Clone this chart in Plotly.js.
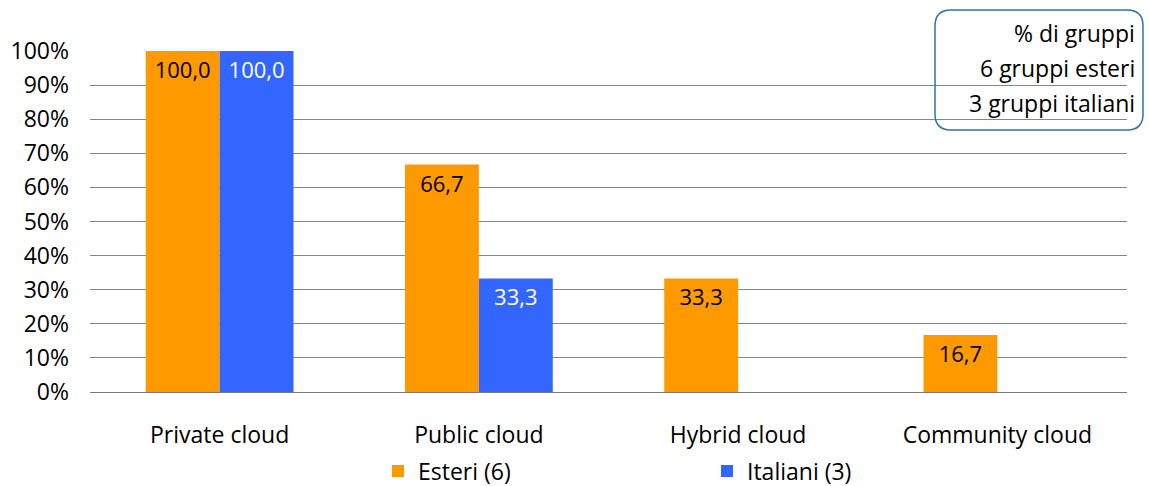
<!DOCTYPE html>
<html><head><meta charset="utf-8">
<script src="https://cdn.plot.ly/plotly-3.0.1.min.js"></script>
<style>body{margin:0;background:#fff}#c{width:1149px;height:486px}</style>
</head><body><div id="c"></div>
<script>
const categories = ["Private cloud", "Public cloud", "Hybrid cloud", "Community cloud"];
const esteri = [100.0, 66.7, 33.3, 16.7];
const italiani = [100.0, 33.3, null, null];
const seriesNames = ["Esteri (6)", "Italiani (3)"];
const tickVals = [0, 10, 20, 30, 40, 50, 60, 70, 80, 90, 100];
const tickText = tickVals.map(v => v + "%");
const boxLines = ["% di gruppi", "6 gruppi esteri", "3 gruppi italiani"];

const fmt = v => v == null ? "" : v.toFixed(1).replace(".", ",");
const FONT = "Open Sans, Noto Sans, sans-serif";
const FS = 23;

const traces = [
  {type: "bar", name: seriesNames[0], x: categories, y: esteri,
   marker: {color: "#FF9900"}, text: esteri.map(fmt), textposition: "inside",
   insidetextanchor: "end", textfont: {color: "#000", size: FS - 1, family: FONT},
   constraintext: "none", hoverinfo: "skip"},
  {type: "bar", name: seriesNames[1], x: categories, y: italiani,
   marker: {color: "#3366FF"}, text: italiani.map(fmt), textposition: "inside",
   insidetextanchor: "end", textfont: {color: "#fff", size: FS - 1, family: FONT},
   constraintext: "none", hoverinfo: "skip"}
];

// rounded box (pixel -> paper)
const L = 90, R = 1127, T = 51, B = 392;
const px = p => (p - L) / (R - L);
const py = p => (B - p) / (B - T);
const bx0 = 935, bx1 = 1143, by0 = 10, by1 = 130, rr = 16;
const rx = rr / (R - L), ry = rr / (B - T);
const X0 = px(bx0), X1 = px(bx1), Y0 = py(by1), Y1 = py(by0);
const path = `M ${X0+rx} ${Y1} L ${X1-rx} ${Y1} Q ${X1} ${Y1} ${X1} ${Y1-ry} L ${X1} ${Y0+ry} Q ${X1} ${Y0} ${X1-rx} ${Y0} L ${X0+rx} ${Y0} Q ${X0} ${Y0} ${X0} ${Y0+ry} L ${X0} ${Y1-ry} Q ${X0} ${Y1} ${X0+rx} ${Y1} Z`;

const annotations = boxLines.map((t, i) => ({
  xref: "paper", yref: "paper", x: px(1137), y: py(33 + i * 35),
  xanchor: "right", yanchor: "middle", showarrow: false, text: t,
  font: {family: FONT, size: FS, color: "#000"}
}));

const layout = {
  width: 1149, height: 486,
  margin: {l: L, r: 1149 - R, t: T, b: 486 - B, autoexpand: false},
  paper_bgcolor: "#fff", plot_bgcolor: "#fff",
  barmode: "group", bargap: 0.43, bargroupgap: 0,
  font: {family: FONT, size: FS, color: "#000"},
  xaxis: {type: "category", showgrid: false, zeroline: false, showline: true,
          linecolor: "#7a7a7a", linewidth: 1, ticks: "", ticklabelstandoff: 22,
          tickfont: {size: FS}, automargin: false},
  yaxis: {range: [0, 100], tickvals: tickVals, ticktext: tickText,
          showgrid: true, gridcolor: "#868686", gridwidth: 1, zeroline: false,
          showline: false, ticks: "", ticklabelstandoff: 20, tickfont: {size: FS},
          automargin: false},
  showlegend: true,
  legend: {orientation: "h", x: px(378), xanchor: "left", y: py(471), yanchor: "middle",
           entrywidth: 284, entrywidthmode: "pixels", font: {size: FS},
           itemwidth: 30, traceorder: "normal", borderwidth: 0, bgcolor: "rgba(0,0,0,0)"},
  shapes: [{type: "path", xref: "paper", yref: "paper", path: path,
            line: {color: "#2E75A6", width: 1.5}, fillcolor: "rgba(0,0,0,0)"}],
  annotations: annotations
};

Plotly.newPlot("c", traces, layout, {staticPlot: true, displayModeBar: false});
</script></body></html>
